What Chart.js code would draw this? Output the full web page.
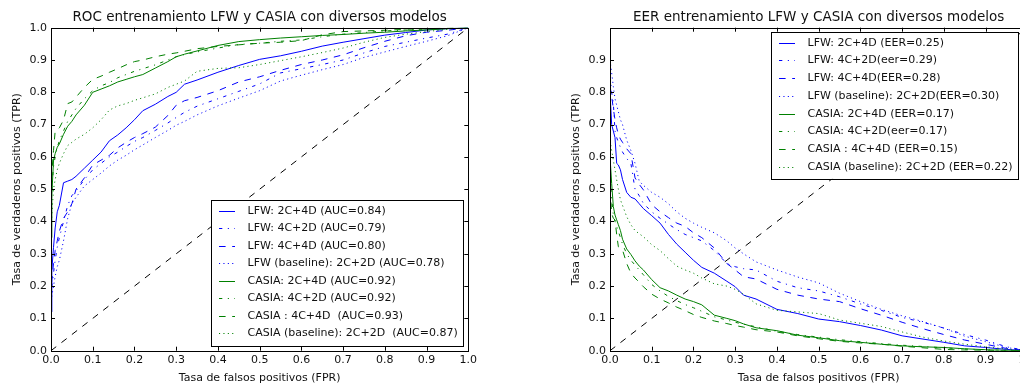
<!DOCTYPE html>
<html>
<head>
<meta charset="utf-8">
<script src="https://cdn.jsdelivr.net/npm/chart.js@4.4.1/dist/chart.umd.min.js"></script>
<style>
  body { margin: 0; width: 1020px; height: 385px; overflow: hidden; position: relative; background: #fff; }
  canvas { position: absolute; top: 0; }
</style>
</head>
<body>
<canvas id="roc" width="510" height="385" style="left:0"></canvas>
<canvas id="eer" width="510" height="385" style="left:559px"></canvas>
<script>
// ---- data: ROC (tasa de verdaderos positivos vs FPR) ----
const rocFpr = [0, 0.002, 0.006, 0.01, 0.015, 0.02, 0.03, 0.04, 0.05, 0.06, 0.08, 0.1, 0.12, 0.14, 0.16, 0.18, 0.2, 0.22, 0.25, 0.28, 0.3, 0.32, 0.35, 0.4, 0.45, 0.5, 0.55, 0.6, 0.65, 0.7, 0.75, 0.8, 0.85, 0.9, 0.95, 1.0]
const rocLfw2c4d = [0.12, 0.25, 0.32, 0.38, 0.43, 0.45, 0.52, 0.525, 0.53, 0.54, 0.565, 0.59, 0.615, 0.65, 0.668, 0.69, 0.715, 0.743, 0.763, 0.787, 0.80, 0.825, 0.838, 0.862, 0.883, 0.902, 0.913, 0.927, 0.943, 0.955, 0.966, 0.977, 0.985, 0.993, 0.997, 1.0]
const rocLfw4c2d = [0.15, 0.2, 0.24, 0.28, 0.32, 0.35, 0.40, 0.45, 0.48, 0.495, 0.53, 0.56, 0.58, 0.60, 0.615, 0.632, 0.648, 0.66, 0.682, 0.705, 0.722, 0.738, 0.757, 0.78, 0.803, 0.826, 0.86, 0.873, 0.886, 0.90, 0.922, 0.942, 0.955, 0.968, 0.98, 1.0]
const rocLfw4c4d = [0.17, 0.22, 0.27, 0.31, 0.34, 0.37, 0.41, 0.43, 0.455, 0.50, 0.535, 0.575, 0.59, 0.605, 0.628, 0.645, 0.66, 0.672, 0.692, 0.728, 0.76, 0.774, 0.784, 0.805, 0.832, 0.848, 0.868, 0.886, 0.90, 0.916, 0.938, 0.958, 0.975, 0.986, 0.992, 1.0]
const rocLfwBase = [0.14, 0.17, 0.2, 0.23, 0.26, 0.28, 0.34, 0.41, 0.455, 0.475, 0.51, 0.53, 0.55, 0.572, 0.59, 0.605, 0.622, 0.637, 0.66, 0.682, 0.698, 0.71, 0.73, 0.758, 0.782, 0.805, 0.835, 0.853, 0.87, 0.886, 0.908, 0.925, 0.942, 0.958, 0.975, 1.0]
const rocCasia2c4d = [0.35, 0.48, 0.59, 0.61, 0.63, 0.64, 0.67, 0.695, 0.71, 0.73, 0.76, 0.80, 0.81, 0.82, 0.832, 0.84, 0.848, 0.855, 0.875, 0.895, 0.91, 0.918, 0.928, 0.945, 0.957, 0.963, 0.968, 0.972, 0.976, 0.979, 0.983, 0.986, 0.99, 0.993, 0.997, 1.0]
const rocCasia4c2d = [0.40, 0.50, 0.57, 0.60, 0.63, 0.65, 0.68, 0.71, 0.73, 0.75, 0.78, 0.805, 0.82, 0.83, 0.845, 0.855, 0.865, 0.873, 0.885, 0.90, 0.91, 0.917, 0.925, 0.937, 0.948, 0.952, 0.958, 0.962, 0.972, 0.98, 0.985, 0.99, 0.993, 0.996, 0.998, 1.0]
const rocCasia4c4d = [0.45, 0.55, 0.62, 0.68, 0.683, 0.69, 0.714, 0.765, 0.77, 0.785, 0.815, 0.84, 0.85, 0.862, 0.873, 0.885, 0.895, 0.90, 0.91, 0.918, 0.922, 0.927, 0.935, 0.942, 0.947, 0.952, 0.955, 0.96, 0.978, 0.988, 0.99, 0.992, 0.995, 0.997, 0.999, 1.0]
const rocCasiaBase = [0.33, 0.42, 0.50, 0.53, 0.56, 0.58, 0.61, 0.635, 0.645, 0.655, 0.67, 0.69, 0.715, 0.745, 0.758, 0.765, 0.775, 0.783, 0.795, 0.815, 0.825, 0.835, 0.865, 0.874, 0.876, 0.886, 0.898, 0.91, 0.923, 0.937, 0.955, 0.97, 0.98, 0.988, 0.995, 1.0]

// ---- data: EER (tasa de falsos negativos vs FPR) ----
const eerFpr = [0, 0.004, 0.008, 0.012, 0.016, 0.02, 0.025, 0.03, 0.04, 0.05, 0.06, 0.07, 0.08, 0.1, 0.12, 0.14, 0.16, 0.18, 0.2, 0.22, 0.25, 0.28, 0.3, 0.32, 0.35, 0.4, 0.45, 0.5, 0.55, 0.6, 0.65, 0.7, 0.75, 0.8, 0.85, 0.9, 0.95, 1.0]
const eerLfw2c4d = [0.80, 0.70, 0.68, 0.66, 0.58, 0.575, 0.56, 0.53, 0.49, 0.475, 0.47, 0.455, 0.44, 0.418, 0.395, 0.36, 0.33, 0.305, 0.28, 0.258, 0.24, 0.215, 0.198, 0.172, 0.16, 0.128, 0.115, 0.098, 0.09, 0.078, 0.064, 0.046, 0.036, 0.026, 0.015, 0.01, 0.004, 0]
const eerLfw4c2d = [0.85, 0.80, 0.766, 0.68, 0.66, 0.645, 0.63, 0.615, 0.595, 0.58, 0.50, 0.48, 0.456, 0.43, 0.41, 0.392, 0.375, 0.36, 0.35, 0.34, 0.31, 0.27, 0.26, 0.254, 0.25, 0.215, 0.195, 0.185, 0.167, 0.145, 0.125, 0.103, 0.088, 0.07, 0.05, 0.033, 0.012, 0]
const eerLfw4c4d = [0.82, 0.787, 0.75, 0.715, 0.69, 0.67, 0.655, 0.645, 0.625, 0.61, 0.535, 0.515, 0.498, 0.452, 0.43, 0.412, 0.395, 0.385, 0.365, 0.35, 0.318, 0.27, 0.25, 0.229, 0.222, 0.19, 0.172, 0.16, 0.152, 0.13, 0.11, 0.088, 0.068, 0.05, 0.033, 0.02, 0.007, 0]
const eerLfwBase = [0.90, 0.86, 0.818, 0.78, 0.76, 0.74, 0.715, 0.70, 0.652, 0.62, 0.58, 0.525, 0.512, 0.49, 0.475, 0.455, 0.43, 0.41, 0.395, 0.382, 0.365, 0.34, 0.318, 0.30, 0.275, 0.25, 0.228, 0.21, 0.178, 0.152, 0.128, 0.108, 0.09, 0.07, 0.045, 0.028, 0.01, 0]
const eerCasia2c4d = [0.60, 0.518, 0.446, 0.42, 0.405, 0.39, 0.372, 0.345, 0.315, 0.298, 0.278, 0.262, 0.25, 0.22, 0.195, 0.185, 0.172, 0.16, 0.152, 0.142, 0.11, 0.10, 0.093, 0.083, 0.071, 0.062, 0.048, 0.04, 0.031, 0.026, 0.02, 0.015, 0.012, 0.01, 0.006, 0.003, 0.001, 0]
const eerCasia4c2d = [0.55, 0.47, 0.42, 0.40, 0.385, 0.37, 0.35, 0.33, 0.30, 0.28, 0.265, 0.25, 0.235, 0.205, 0.185, 0.168, 0.155, 0.143, 0.133, 0.122, 0.105, 0.095, 0.088, 0.082, 0.074, 0.06, 0.05, 0.042, 0.034, 0.028, 0.022, 0.017, 0.013, 0.009, 0.005, 0.003, 0.001, 0]
const eerCasia4c4d = [0.50, 0.425, 0.41, 0.405, 0.36, 0.322, 0.318, 0.312, 0.27, 0.24, 0.225, 0.212, 0.198, 0.175, 0.16, 0.148, 0.135, 0.124, 0.112, 0.103, 0.092, 0.084, 0.078, 0.073, 0.065, 0.058, 0.046, 0.037, 0.029, 0.024, 0.02, 0.014, 0.009, 0.004, 0.002, 0.001, 0, 0]
const eerCasiaBase = [0.65, 0.62, 0.59, 0.56, 0.529, 0.50, 0.467, 0.45, 0.415, 0.39, 0.372, 0.362, 0.353, 0.328, 0.31, 0.285, 0.262, 0.25, 0.24, 0.225, 0.207, 0.2, 0.19, 0.175, 0.145, 0.125, 0.12, 0.115, 0.095, 0.085, 0.075, 0.058, 0.042, 0.03, 0.02, 0.012, 0.005, 0]

const diagX = [0, 1]
const diagY = [0, 1]

const rocLabels = ['LFW: 2C+4D (AUC=0.84)', 'LFW: 4C+2D (AUC=0.79)', 'LFW: 4C+4D (AUC=0.80)', 'LFW (baseline): 2C+2D (AUC=0.78)',
  'CASIA: 2C+4D (AUC=0.92)', 'CASIA: 4C+2D (AUC=0.92)', 'CASIA : 4C+4D  (AUC=0.93)', 'CASIA (baseline): 2C+2D  (AUC=0.87)']
const eerLabels = ['LFW: 2C+4D (EER=0.25)', 'LFW: 4C+2D(eer=0.29)', 'LFW: 4C+4D(EER=0.28)', 'LFW (baseline): 2C+2D(EER=0.30)',
  'CASIA: 2C+4D (EER=0.17)', 'CASIA: 4C+2D(eer=0.17)', 'CASIA : 4C+4D (EER=0.15)', 'CASIA (baseline): 2C+2D (EER=0.22)']

// ---- styles (matplotlib classic look) ----
const FONT = 'DejaVu Sans'
const BLUE = '#0000ff'
const GREEN = '#008000'
const SOLID = []
const DASHDOT = [3.3, 5.5, 1.1, 5.5]
const DASHED = [6.6, 6.6]
const DOTTED = [1.1, 3.3]

Chart.defaults.font.family = FONT

function line(label, xs, ys, color, dash) {
  return {
    label,
    data: xs.map((x, i) => ({ x, y: ys[i] })),
    borderColor: color,
    borderDash: dash,
    borderWidth: 1,
    pointRadius: 0,
    showLine: true,
    fill: false,
    tension: 0
  }
}

// title centred over the axes (not over the whole canvas)
const axesTitle = {
  id: 'axesTitle',
  afterDraw(chart, args, opts) {
    const { ctx, chartArea: a } = chart
    ctx.save()
    ctx.font = '13.5px "' + FONT + '"'
    ctx.fillStyle = '#111'
    ctx.textAlign = 'center'
    ctx.textBaseline = 'middle'
    ctx.fillText(opts.text, (a.left + a.right) / 2, 17)
    ctx.restore()
  }
}

// matplotlib-style frame with inward ticks on the four sides
const mplFrame = {
  id: 'mplFrame',
  afterDatasetsDraw(chart) {
    const { ctx, chartArea: a, scales } = chart
    ctx.save()
    ctx.strokeStyle = '#000'
    ctx.lineWidth = 1
    ctx.setLineDash([])
    ctx.strokeRect(Math.round(a.left) + 0.5, Math.round(a.top) + 0.5, Math.round(a.right - a.left), Math.round(a.bottom - a.top))
    ctx.beginPath()
    for (let i = 1; i < 10; i++) {
      const px = Math.round(scales.x.getPixelForValue(i / 10)) + 0.5
      ctx.moveTo(px, a.bottom); ctx.lineTo(px, a.bottom - 4)
      ctx.moveTo(px, a.top); ctx.lineTo(px, a.top + 4)
      const py = Math.round(scales.y.getPixelForValue(i / 10)) + 0.5
      ctx.moveTo(a.left, py); ctx.lineTo(a.left + 4, py)
      ctx.moveTo(a.right, py); ctx.lineTo(a.right - 4, py)
    }
    ctx.stroke()
    ctx.restore()
  }
}

// legend inside the axes, framed like matplotlib's
const boxLegend = {
  id: 'boxLegend',
  afterDraw(chart, args, opts) {
    const { ctx, chartArea: a } = chart
    const sets = chart.data.datasets.filter(d => !d.noLegend)
    ctx.save()
    ctx.font = '11px "' + FONT + '"'
    const textW = Math.max(...sets.map(d => ctx.measureText(d.label).width))
    const w = 8 + 16 + 12.5 + textW + 5
    const h = 10.7 + (sets.length - 1) * opts.row + 12.3
    const right = Math.round(a.right - opts.dx)
    const left = Math.round(right - w)
    const top = Math.round(opts.corner === 'br' ? a.bottom - opts.dy - h : a.top + opts.dy)
    ctx.fillStyle = '#fff'
    ctx.fillRect(left, top, right - left, h)
    ctx.strokeStyle = '#000'
    ctx.lineWidth = 1
    ctx.strokeRect(left + 0.5, top + 0.5, right - left, Math.round(h))
    ctx.textBaseline = 'middle'
    sets.forEach((d, i) => {
      const y = Math.round(top + 10.7 + i * opts.row) + 0.5
      ctx.beginPath()
      ctx.setLineDash(d.borderDash)
      ctx.strokeStyle = d.borderColor
      ctx.moveTo(left + 8, y); ctx.lineTo(left + 24, y)
      ctx.stroke()
      ctx.setLineDash([])
      ctx.fillStyle = '#111'
      ctx.fillText(d.label, left + 36.5, y)
    })
    ctx.restore()
  }
}

function makeChart(canvas, title, xs, series, labels, legendOpts, hideTop) {
  const styles = [[BLUE, SOLID], [BLUE, DASHDOT], [BLUE, DASHED], [BLUE, DOTTED],
    [GREEN, SOLID], [GREEN, DASHDOT], [GREEN, DASHED], [GREEN, DOTTED]]
  const datasets = series.map((ys, i) => line(labels[i], xs, ys, styles[i][0], styles[i][1]))
  const diag = line('diag', diagX, diagY, '#000', DASHED)
  diag.noLegend = true
  datasets.push(diag)
  datasets.forEach((d, i) => { d.order = datasets.length - i })

  const tickFont = { family: FONT, size: 11 }
  const fmt = v => (hideTop && v >= 0.999) ? '' : Number(v).toFixed(1)
  return new Chart(canvas, {
    type: 'scatter',
    data: { datasets },
    options: {
      responsive: false,
      animation: false,
      events: [],
      layout: { padding: { left: 1, right: 41.7, top: 27.7, bottom: 0 } },
      plugins: {
        legend: { display: false },
        tooltip: { enabled: false },
        title: { display: false },
        axesTitle: { text: title },
        boxLegend: legendOpts
      },
      scales: {
        x: {
          type: 'linear', min: 0, max: 1,
          grid: { display: false, drawTicks: false },
          border: { display: false },
          ticks: { stepSize: 0.1, padding: 3, color: '#111', font: tickFont, maxRotation: 0, autoSkip: false, callback: v => Number(v).toFixed(1) },
          title: { display: true, text: 'Tasa de falsos positivos (FPR)', color: '#111', font: tickFont, padding: 0 },
          afterFit: s => { s.height = 34.3 }
        },
        y: {
          type: 'linear', min: 0, max: 1,
          grid: { display: false, drawTicks: false },
          border: { display: false },
          ticks: { stepSize: 0.1, padding: 4, color: '#111', font: tickFont, autoSkip: false, callback: fmt },
          title: { display: true, text: 'Tasa de verdaderos positivos (TPR)', color: '#111', font: tickFont, padding: { top: 9.4, bottom: 0 } },
          afterFit: s => { s.width = 50 }
        }
      }
    },
    plugins: [mplFrame, boxLegend, axesTitle]
  })
}

makeChart(document.getElementById('roc'), 'ROC entrenamiento LFW y CASIA con diversos modelos', rocFpr,
  [rocLfw2c4d, rocLfw4c2d, rocLfw4c4d, rocLfwBase, rocCasia2c4d, rocCasia4c2d, rocCasia4c4d, rocCasiaBase],
  rocLabels, { corner: 'br', dx: 5, dy: 5, row: 17.5 }, false)

makeChart(document.getElementById('eer'), 'EER entrenamiento LFW y CASIA con diversos modelos', eerFpr,
  [eerLfw2c4d, eerLfw4c2d, eerLfw4c4d, eerLfwBase, eerCasia2c4d, eerCasia4c2d, eerCasia4c4d, eerCasiaBase],
  eerLabels, { corner: 'tr', dx: 9.5, dy: 4.3, row: 17.7 }, true)
</script>
</body>
</html>
